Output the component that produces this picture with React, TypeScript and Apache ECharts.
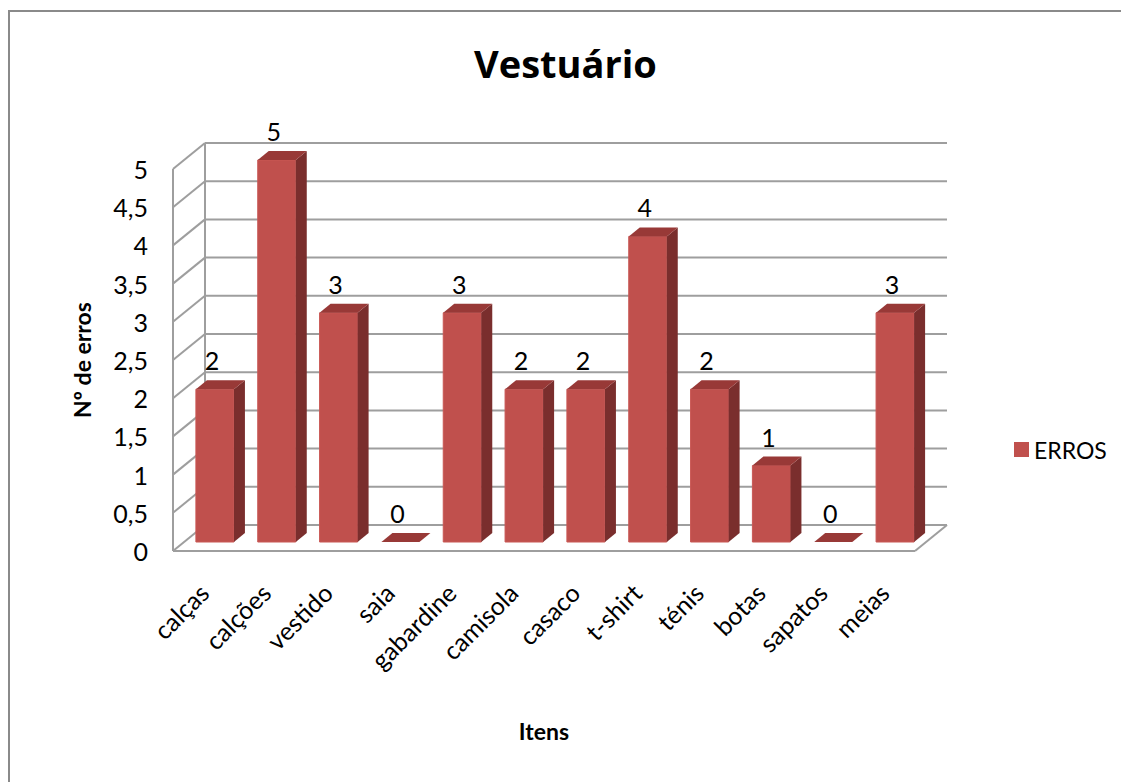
import React, { useEffect, useRef } from "react";
import * as echarts from "echarts";

// Itens de vestuário e número de erros por item
const categories: string[] = [
  "calças", "calções", "vestido", "saia", "gabardine", "camisola",
  "casaco", "t-shirt", "ténis", "botas", "sapatos", "meias",
];
const erros: number[] = [2, 5, 3, 0, 3, 2, 2, 4, 2, 1, 0, 3];
const yTicks: number[] = [0, 0.5, 1, 1.5, 2, 2.5, 3, 3.5, 4, 4.5, 5];

const SERIES_NAME = "ERROS";
const TITLE = "Vestuário";
const Y_NAME = "Nº de erros";
const X_NAME = "Itens";

// 3D look: floor/wall depth offset and bar depth offset (px)
const FLOOR_DX = 32;
const FLOOR_DY = -26;
const BAR_FX = 11; // bar front face offset from the floor front edge
const BAR_FY = -9;
const BAR_DX = 11; // bar depth
const BAR_DY = -9;

const FRONT = "#C0504D";
const SIDE = "#7A2E2D";
const TOP = "#983937";
const GRID = "#9E9E9E";
const FONT = "Lato";

export default function App() {
  const ref = useRef<HTMLDivElement>(null);

  useEffect(() => {
    if (!ref.current) return;
    const chart = echarts.init(ref.current, undefined, { renderer: "svg" });

    const option: any = {
      animation: false,
      backgroundColor: "#ffffff",
      title: {
        text: TITLE,
        left: 474,
        top: 44,
        padding: 0,
        textStyle: {
          fontFamily: "Open Sans",
          fontWeight: "bold",
          fontSize: 38,
          color: "#000",
        },
      },
      legend: {
        data: [{ name: SERIES_NAME, icon: "rect" }],
        left: 1014,
        top: 438,
        padding: 0,
        itemWidth: 15,
        itemHeight: 15,
        itemGap: 6,
        textStyle: { fontFamily: FONT, fontSize: 23, color: "#000" },
      },
      grid: { left: 173, top: 169, width: 742, height: 382 },
      xAxis: {
        type: "category",
        data: categories,
        name: X_NAME,
        nameLocation: "middle",
        nameGap: 168,
        nameTextStyle: {
          fontFamily: FONT,
          fontWeight: "bold",
          fontSize: 23,
          color: "#000",
        },
        axisLine: { show: false },
        axisTick: { show: false },
        axisLabel: {
          rotate: 45,
          margin: 37,
          interval: 0,
          fontFamily: FONT,
          fontSize: 25,
          color: "#000",
        },
      },
      yAxis: {
        type: "value",
        min: 0,
        max: 5,
        interval: 0.5,
        name: Y_NAME,
        nameLocation: "middle",
        nameGap: 80,
        nameTextStyle: {
          fontFamily: FONT,
          fontWeight: "bold",
          fontSize: 23,
          color: "#000",
        },
        axisLine: { show: false },
        axisTick: { show: false },
        splitLine: { show: false },
        axisLabel: {
          margin: 25,
          fontFamily: FONT,
          fontSize: 25,
          color: "#000",
          formatter: (v: number) => String(v).replace(".", ","),
        },
      },
      graphic: [
        {
          type: "rect",
          silent: true,
          shape: { x: 9, y: 11, width: 1300, height: 1000 },
          style: { fill: "none", stroke: "#8A8A8A", lineWidth: 2 },
        },
      ],
      series: [
        {
          // back wall gridlines, left wall and floor
          type: "custom",
          name: "parede",
          silent: true,
          data: yTicks.map((t) => [0, t]),
          renderItem: (params: any, api: any) => {
            const cs = params.coordSys;
            const v = api.value(1);
            const y = api.coord([0, v])[1];
            const L = cs.x;
            const R = cs.x + cs.width;
            const ls = { stroke: GRID, lineWidth: 2 };
            const children: any[] = [
              {
                type: "line",
                shape: { x1: L, y1: y, x2: L + FLOOR_DX, y2: y + FLOOR_DY },
                style: ls,
              },
              {
                type: "line",
                shape: {
                  x1: L + FLOOR_DX,
                  y1: y + FLOOR_DY,
                  x2: R + FLOOR_DX,
                  y2: y + FLOOR_DY,
                },
                style: ls,
              },
            ];
            if (v === 0) {
              children.push(
                { type: "line", shape: { x1: L, y1: y, x2: R, y2: y }, style: ls },
                {
                  type: "line",
                  shape: { x1: R, y1: y, x2: R + FLOOR_DX, y2: y + FLOOR_DY },
                  style: ls,
                },
                { type: "line", shape: { x1: L, y1: y, x2: L, y2: cs.y }, style: ls },
                {
                  type: "line",
                  shape: {
                    x1: L + FLOOR_DX,
                    y1: y + FLOOR_DY,
                    x2: L + FLOOR_DX,
                    y2: cs.y + FLOOR_DY,
                  },
                  style: ls,
                }
              );
            }
            return { type: "group", children };
          },
        },
        {
          type: "custom",
          name: SERIES_NAME,
          itemStyle: { color: FRONT },
          data: erros.map((v, i) => [i, v]),
          renderItem: (params: any, api: any) => {
            const i = api.value(0);
            const v = api.value(1);
            const top = api.coord([i, v]);
            const base = api.coord([i, 0]);
            const band = api.size([1, 0])[0];
            const w = band * 0.615;
            const x0 = top[0] + BAR_FX - w / 2;
            const x1 = x0 + w;
            const yT = top[1] + BAR_FY;
            const yB = base[1] + BAR_FY;
            const children: any[] = [];
            if (yB - yT > 0.5) {
              children.push(
                {
                  type: "rect",
                  shape: { x: x0, y: yT, width: w, height: yB - yT },
                  style: { fill: FRONT, stroke: "#C95855", lineWidth: 1 },
                },
                {
                  type: "polygon",
                  shape: {
                    points: [
                      [x1, yB],
                      [x1 + BAR_DX, yB + BAR_DY],
                      [x1 + BAR_DX, yT + BAR_DY],
                      [x1, yT],
                    ],
                  },
                  style: { fill: SIDE },
                }
              );
            }
            children.push(
              {
                type: "polygon",
                shape: {
                  points: [
                    [x0, yT],
                    [x1, yT],
                    [x1 + BAR_DX, yT + BAR_DY],
                    [x0 + BAR_DX, yT + BAR_DY],
                  ],
                },
                style: { fill: TOP },
              },
              {
                type: "text",
                x: top[0] + BAR_FX - 3,
                y: yT - 29,
                style: {
                  text: String(v),
                  align: "center",
                  verticalAlign: "middle",
                  fontFamily: FONT,
                  fontSize: 25,
                  fill: "#000",
                },
              }
            );
            return { type: "group", children };
          },
        },
      ],
    };

    chart.setOption(option);
    return () => chart.dispose();
  }, []);

  return (
    <div
      ref={ref}
      style={{
        position: "fixed",
        left: 0,
        top: 0,
        width: 1121,
        height: 782,
        background: "#fff",
      }}
    />
  );
}
